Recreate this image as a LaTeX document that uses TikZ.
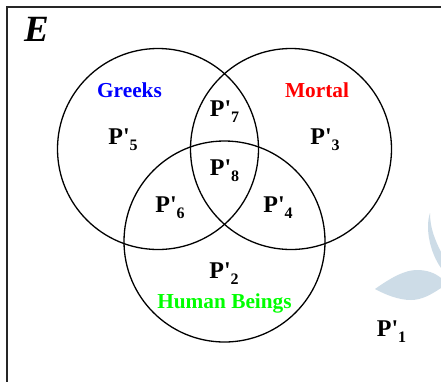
\documentclass[tikz,border=0pt]{standalone}
\usepackage{fontspec}
\setmainfont{Liberation Serif}[Ligatures=TeXOff]
\definecolor{leafc}{HTML}{CDDCE7}
\tikzset{
  px/.style={x=1pt,y=-1pt},
  venn/.style={draw=black,line width=1.3pt,circle,minimum size=201pt,inner sep=0pt,outer sep=0pt},
  plabel/.style={font=\fontsize{24}{26}\selectfont\bfseries,inner sep=0pt,text=black},
  setlabel/.style={font=\fontsize{21.3}{24}\selectfont\bfseries,inner sep=0pt},
  frameline/.style={draw=black!85,line width=1.6pt},
  leaf/.style={fill=leafc,draw=none}
}
\newcommand{\pl}[1]{P'\raisebox{-6pt}{\fontsize{16}{18}\selectfont #1}}
\begin{document}
\begin{tikzpicture}[px]
\useasboundingbox (0,0) rectangle (441,381);
\clip (0,0) rectangle (441,381);
\fill[white] (0,0) rectangle (441,381);
\fill[leaf] (375,289) .. controls (392,277) and (405,270) .. (417,270) .. controls (427,270) and (435,273) .. (441,278) -- (441,288) .. controls (432,294) and (422,300) .. (411,300) .. controls (399,300) and (386,295) .. (375,289) -- cycle;
\fill[leaf] (430,213) .. controls (427,222) and (428,232) .. (429,238) .. controls (431,250) and (436,261) .. (441,268) -- (441,252) .. controls (435,240) and (430,228) .. (430,213) -- cycle;
\coordinate (fbl) at (7,395);
\coordinate (ftl) at (7,7);
\coordinate (ftr) at (455,7);
\draw[frameline] (fbl) -- (ftl) -- (ftr);
\node[venn] (greekscircle) at (158,149) {};
\node[venn] (mortalcircle) at (291,149) {};
\node[venn] (humancircle) at (224.5,241.5) {};
\node[font=\fontsize{37}{38}\selectfont\bfseries\itshape,inner sep=0pt] (e) at (36.5,29.5) {E};
\node[setlabel,text={rgb,1:red,0;green,0;blue,1}] (greeks) at (129.5,90) {Greeks};
\node[setlabel,text={rgb,1:red,1;green,0;blue,0}] (mortal) at (317,90) {Mortal};
\node[setlabel,text={rgb,1:red,0;green,1;blue,0}] (human) at (224.5,303.5) {Human Beings};
\node[plabel] (p5) at (123,139.5) {\pl{5}};
\node[plabel] (p7) at (224.5,111.5) {\pl{7}};
\node[plabel] (p3) at (325,140) {\pl{3}};
\node[plabel] (p8) at (224.5,170.5) {\pl{8}};
\node[plabel] (p6) at (170,208) {\pl{6}};
\node[plabel] (p4) at (278,207.5) {\pl{4}};
\node[plabel] (p2) at (224,274) {\pl{2}};
\node[plabel] (p1) at (391.5,332) {\pl{1}};
\end{tikzpicture}
\end{document}
